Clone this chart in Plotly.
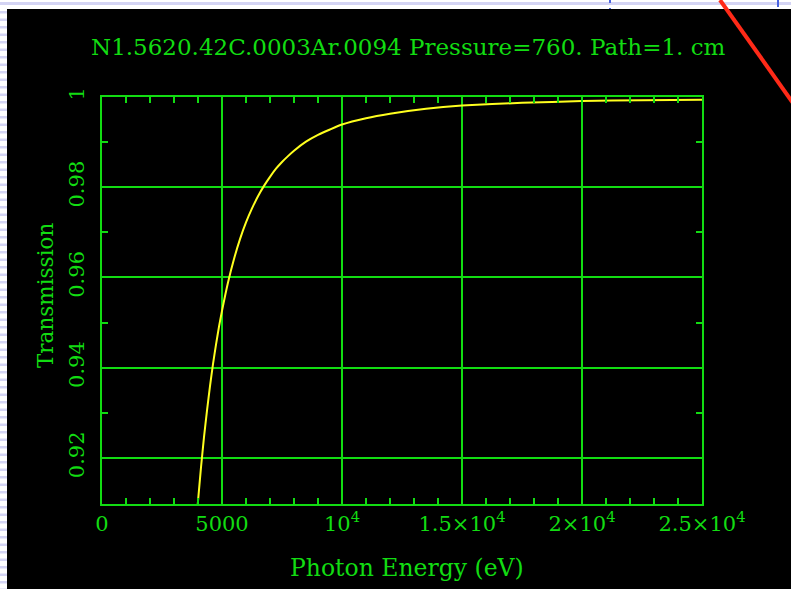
import plotly.graph_objects as go

# Photon energy (eV) and transmission through 1 cm of air
energy_ev = [3950, 4000, 4125, 4250, 4375, 4500, 4625, 4750, 4875, 5000, 5250,
             5500, 5750, 6000, 6250, 6500, 6750, 7000, 7250, 7500, 7750, 8000,
             8500, 9000, 9500, 10000, 11000, 12000, 13500, 15000, 17500, 20000,
             22500, 25000]
transmission = [0.9072, 0.9104, 0.9179, 0.9246, 0.9305, 0.9359, 0.9408, 0.9451,
                0.9491, 0.9526, 0.9589, 0.9641, 0.9685, 0.9722, 0.9753, 0.9780,
                0.9803, 0.9823, 0.9841, 0.9856, 0.9869, 0.9881, 0.9901, 0.9916,
                0.9928, 0.9939, 0.9953, 0.9963, 0.9974, 0.9981, 0.9987, 0.9991,
                0.9993, 0.9994]

x_tick_vals = [0, 5000, 10000, 15000, 20000, 25000]
x_tick_text = ["0", "5000", "10<sup>4</sup>", "1.5×10<sup>4</sup>",
               "2×10<sup>4</sup>", "2.5×10<sup>4</sup>"]
y_tick_vals = [0.92, 0.94, 0.96, 0.98, 1.0]
y_tick_text = ["0.92", "0.94", "0.96", "0.98", "1"]

title_text = "N1.5620.42C.0003Ar.0094 Pressure=760. Path=1. cm"
x_title = "Photon Energy (eV)"
y_title = "Transmission"

FIG_W, FIG_H = 791, 589
L, R, T, B = 102, 89, 97, 85
PW, PH = FIG_W - L - R, FIG_H - T - B
GREEN = "#12dc12"
FONT = "DejaVu Serif"


def px(xp):
    return (xp - L) / PW


def py(yp):
    return (FIG_H - B - yp) / PH


fig = go.Figure()
fig.add_trace(go.Scatter(x=energy_ev, y=transmission, mode="lines",
                         line=dict(color="#ffff1e", width=2, shape="spline",
                                   smoothing=0.5),
                         showlegend=False))

axis_common = dict(
    showline=True, linecolor=GREEN, linewidth=2, mirror="ticks",
    ticks="inside", ticklen=7, tickwidth=2, tickcolor=GREEN,
    showgrid=True, gridcolor=GREEN, gridwidth=2, zeroline=False,
    tickfont=dict(family=FONT, size=21, color=GREEN),
)
fig.update_xaxes(range=[0, 25000], tickmode="array", tickvals=x_tick_vals,
                 ticktext=x_tick_text, ticklabelstandoff=0,
                 minor=dict(dtick=1000, ticks="inside", ticklen=6,
                            tickcolor=GREEN, tickwidth=2, showgrid=False),
                 **axis_common)
fig.update_yaxes(range=[0.9098, 1.0], tickmode="array", tickvals=y_tick_vals,
                 ticktext=y_tick_text, tickangle=-90, ticklabelstandoff=8,
                 minor=dict(dtick=0.01, tick0=0.91, ticks="inside", ticklen=6,
                            tickcolor=GREEN, tickwidth=2, showgrid=False),
                 **axis_common)

shapes = []
# window backdrop
shapes.append(dict(type="rect", xref="paper", yref="paper", layer="below",
                   x0=px(7), x1=px(FIG_W + 5), y0=py(FIG_H + 5), y1=py(9),
                   fillcolor="black", line=dict(width=0)))
# striped strip on the left edge and the band along the top
for k in range(80):
    y0 = 11 + k * 7.5
    if y0 > FIG_H:
        break
    shapes.append(dict(type="rect", xref="paper", yref="paper", layer="below",
                       x0=px(0), x1=px(7), y0=py(y0 + 2.5), y1=py(y0),
                       fillcolor="#d4d4f4", line=dict(width=0)))
shapes.append(dict(type="rect", xref="paper", yref="paper", layer="below",
                   x0=px(0), x1=px(FIG_W + 5), y0=py(5), y1=py(2),
                   fillcolor="#d4d4f4", line=dict(width=0)))
for bx, by0, by1 in [(610, 0, 3), (610, 8, 9), (778, 0, 7)]:
    shapes.append(dict(type="line", xref="paper", yref="paper",
                       x0=px(bx), x1=px(bx), y0=py(by0), y1=py(by1),
                       line=dict(color="#4a64e0", width=2)))
# red stroke across the top right corner
shapes.append(dict(type="line", xref="paper", yref="paper",
                   x0=px(720), y0=py(0), x1=px(793), y1=py(103),
                   line=dict(color="#ff2a18", width=4)))

annotations = [
    dict(text=title_text, xref="paper", yref="paper", x=px(408), y=py(47),
         showarrow=False, xanchor="center", yanchor="middle",
         font=dict(family=FONT, size=23, color=GREEN)),
    dict(text=x_title, xref="paper", yref="paper", x=px(407), y=py(568),
         showarrow=False, xanchor="center", yanchor="middle",
         font=dict(family=FONT, size=23.5, color=GREEN)),
    dict(text=y_title, xref="paper", yref="paper", x=px(45), y=py(296),
         showarrow=False, xanchor="center", yanchor="middle", textangle=-90,
         font=dict(family=FONT, size=21.5, color=GREEN)),
]

fig.update_layout(
    width=FIG_W, height=FIG_H, autosize=False,
    margin=dict(l=L, r=R, t=T, b=B),
    paper_bgcolor="white", plot_bgcolor="black",
    shapes=shapes, annotations=annotations,
)

fig.write_html("out.html")
